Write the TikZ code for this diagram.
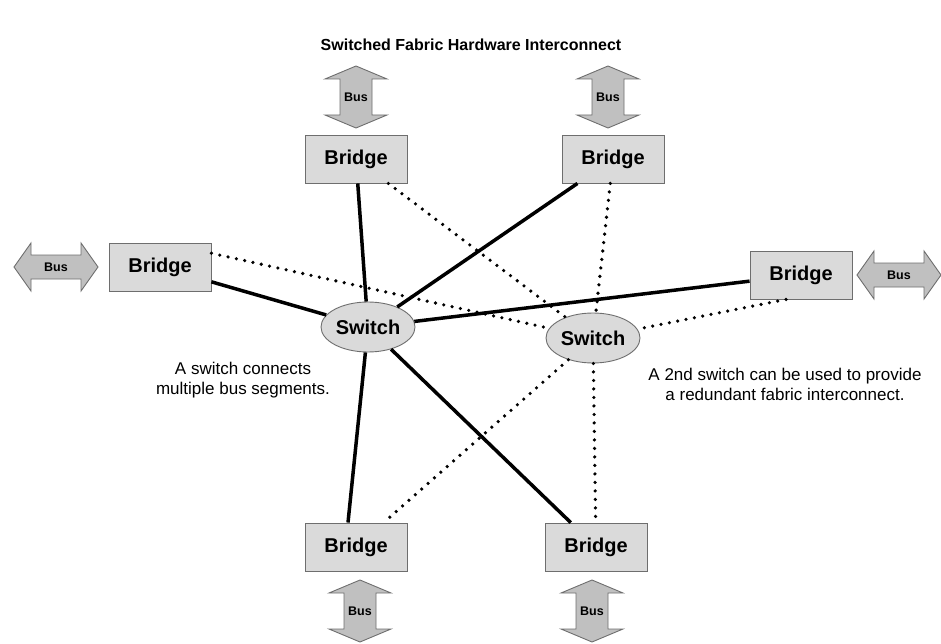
\documentclass[tikz,border=0pt]{standalone}
\usepackage{fontspec}
\setmainfont{Liberation Sans}
\usetikzlibrary{shapes.geometric}

\definecolor{boxgray}{RGB}{218,218,218}
\definecolor{edgegray}{RGB}{110,110,110}
\definecolor{busgray}{RGB}{192,192,192}

\tikzset{
  bridgebox/.style={draw=edgegray,fill=boxgray,line width=0.9pt,minimum width=102pt,minimum height=48pt,
    font=\fontsize{20}{22}\selectfont\bfseries},
  switchnode/.style={ellipse,draw=edgegray,fill=boxgray,line width=0.9pt,minimum width=94pt,minimum height=50pt,
    inner sep=0pt,font=\fontsize{20}{22}\selectfont\bfseries},
  solidlink/.style={line width=3.5pt},
  dotlink/.style={line width=3.6pt,line cap=round,dash pattern=on 0pt off 8.5pt},
  bustext/.style={inner sep=0pt,font=\fontsize{12.5}{14}\selectfont\bfseries},
  busfill/.style={draw=edgegray,fill=busgray,line width=0.9pt},
  vbus/.pic={
    \draw[busfill] (0,-31) -- (31,-18) -- (16,-18) -- (16,18) -- (31,18) -- (0,31)
      -- (-31,18) -- (-16,18) -- (-16,-18) -- (-31,-18) -- cycle;
    \node[bustext] (-lbl) {Bus};
  },
  hbus/.pic={
    \draw[busfill] (-42,0) -- (-25,-24) -- (-25,-12) -- (25,-12) -- (25,-24) -- (42,0)
      -- (25,24) -- (25,12) -- (-25,12) -- (-25,24) -- cycle;
    \node[bustext] (-lbl) {Bus};
  }
}

\begin{document}
\begin{tikzpicture}[x=1pt,y=-1pt]
  \useasboundingbox (0,0) rectangle (941,644);

  \node[font=\fontsize{16}{18}\selectfont\bfseries] (title) at (471,45) {Switched Fabric Hardware Interconnect};

  % bridges
  \foreach \n/\p in {tlb/{356,159}, trb/{613,159}, lb/{160,267}, rb/{801,275}, blb/{356,547}, brb/{596,547}} {
    \node[bridgebox] (\n) at (\p) {Bridge};
  }

  % buses
  \pic (tlbus) at (356,97) {vbus};
  \pic (trbus) at (608,97) {vbus};
  \pic (blbus) at (360,611) {vbus};
  \pic (brbus) at (592,611) {vbus};
  \pic (lbus) at (56,267) {hbus};
  \pic (rbus) at (899,275) {hbus};

  % switches
  \node[switchnode] (swl) at (368,327) {Switch};
  \node[switchnode] (swr) at (593,338) {Switch};

  % first switch
  \foreach \a/\b in {tlb/swl, trb/swl, lb/swl, rb/swl, swl/brb} {
    \draw[solidlink] (\a) -- (\b);
  }
  \draw[solidlink] (swl) -- ([xshift=-8pt]blb.north);

  % second switch
  \foreach \a/\b in {tlb/swr, lb.15/swr, trb/swr, swr/blb, swr/brb} {
    \draw[dotlink] (\a) -- (\b);
  }
  \draw[dotlink] ([xshift=-15pt]rb.south) -- (swr);

  \node[align=center,font=\fontsize{17}{20}\selectfont] (notel) at (243,380) {A switch connects\\multiple bus segments.};
  \node[align=center,font=\fontsize{17}{20}\selectfont] (noter) at (785,384) {A 2nd switch can be used to provide\\a redundant fabric interconnect.};
\end{tikzpicture}
\end{document}
